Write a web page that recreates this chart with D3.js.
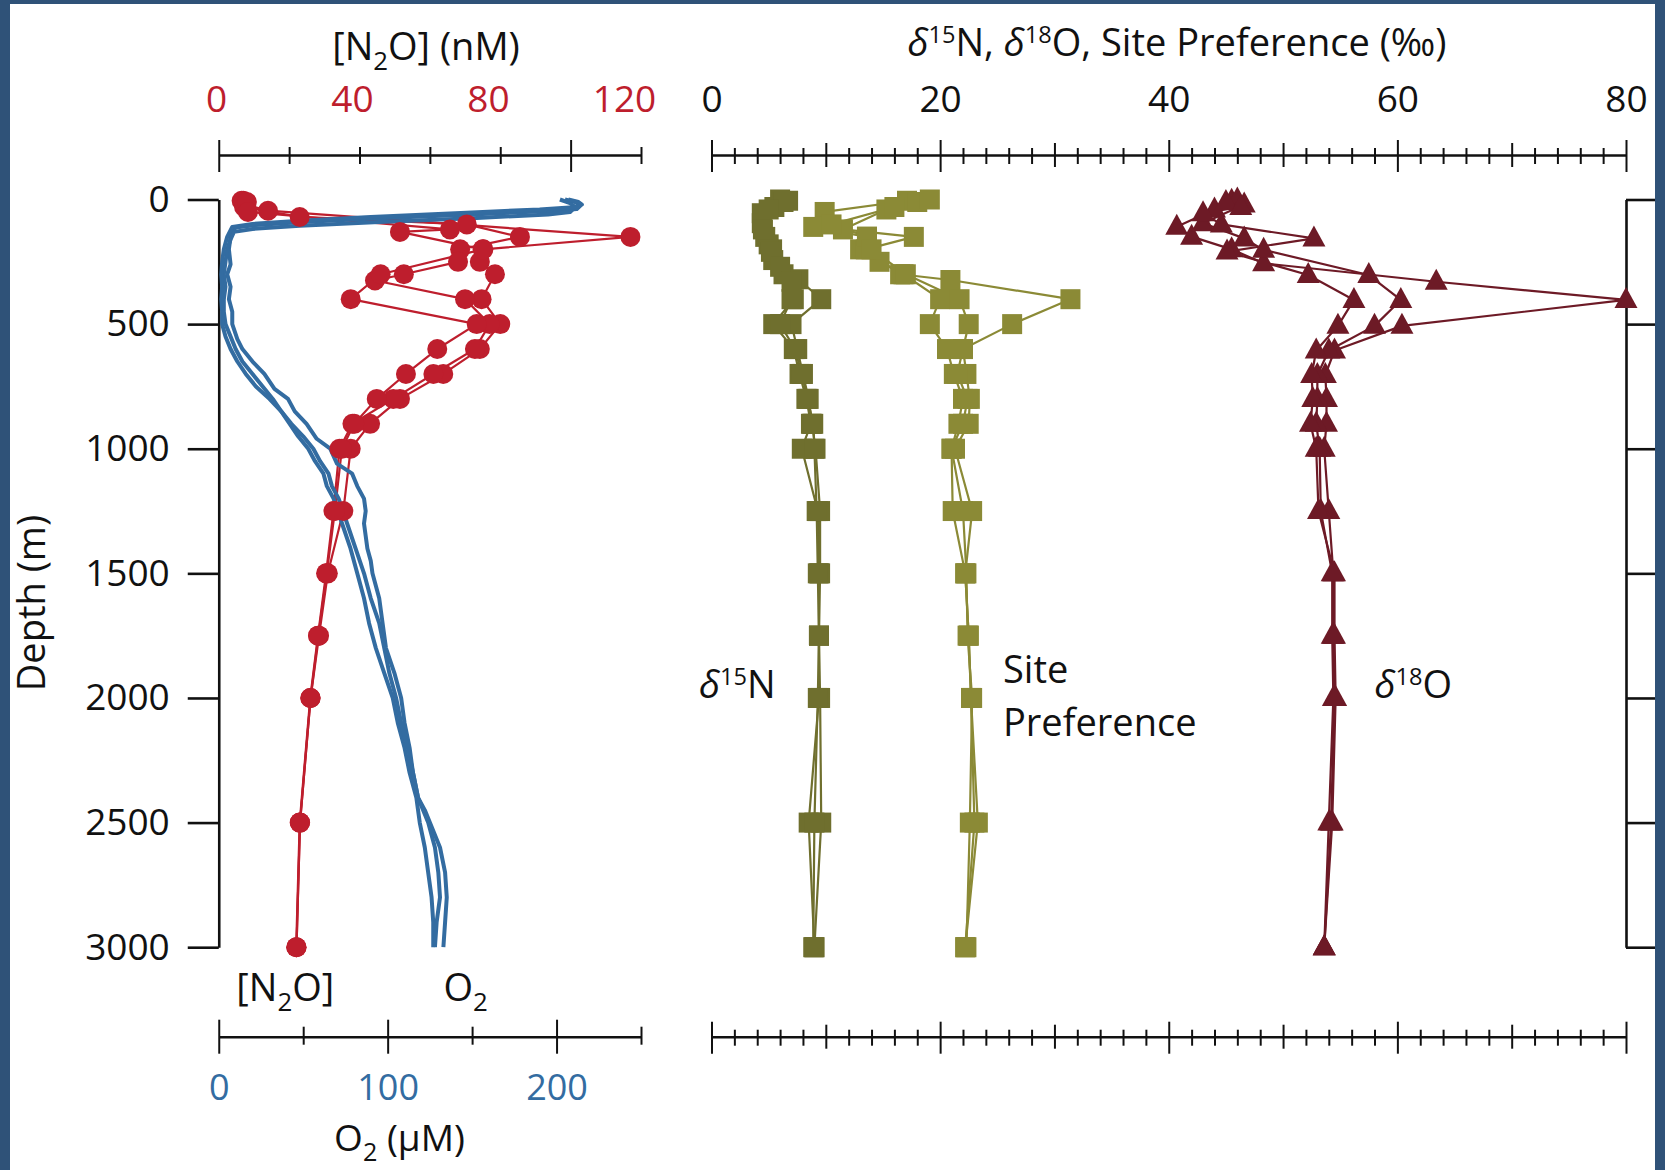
<!DOCTYPE html>
<html>
<head>
<meta charset="utf-8">
<script src="https://cdn.jsdelivr.net/npm/d3@7"></script>
<style>
  html, body { margin: 0; padding: 0; background: #2f5278; }
  svg { display: block; }
</style>
</head>
<body>
<svg id="chart" width="1665" height="1170"></svg>
<script>
// depth ticks and axis tick values
const depthTicks = [0, 500, 1000, 1500, 2000, 2500, 3000];
const n2oTicks = [0, 20, 40, 60, 80, 100, 120];
const n2oLabels = [0, 40, 80, 120];
const o2Ticks = [0, 50, 100, 150, 200, 250];
const o2Labels = [0, 100, 200];
const isoTicks = d3.range(0, 81, 2);
const isoLabels = [0, 20, 40, 60, 80];

// [N2O] (nM) by station, [depth, value]
const n2oSt1 = [[5,7],[20,7.5],[45,14],[150,117],[200,75.2],[250,74.2],[300,78.5],[400,74.7],[500,80],[600,74.2],[700,63.8],[800,51.5],[900,43],[1000,37.5],[1250,35.4],[1500,31],[1750,28.5],[2000,26.1],[2500,23.1],[3000,22.1]];
const n2oSt2 = [[5,6.5],[30,7.2],[70,23],[100,70.5],[150,85.6],[200,68.6],[250,68],[300,52.6],[325,44.4],[400,70],[500,77],[600,72.8],[700,61],[800,49.6],[900,38],[1000,34.3],[1250,32.6],[1500,30.5],[1750,28.2],[2000,26],[2500,23],[3000,22]];
const n2oSt3 = [[10,8],[50,8.3],[120,65.7],[130,51.5],[200,75],[300,46],[400,37.5],[500,73.3],[600,62.1],[700,53.2],[800,44.9],[900,38.5],[1000,35],[1250,33],[1500,30.7],[1750,28.3],[2000,26.1],[2500,23.1],[3000,22.1]];

// O2 (uM) CTD profiles, [depth, value]
const o2Cast1 = [[0,205],[10,211],[25,214],[38,212],[45,200],[60,150],[75,95],[90,50],[102,22],[112,10],[150,7],[200,6],[260,7],[300,5],[350,7],[400,6],[450,8],[500,8],[560,11],[600,14],[650,20],[700,27],[760,33],[800,41],[850,45],[900,52],[960,58],[1000,66],[1060,70],[1100,79],[1150,82],[1200,86],[1250,87],[1300,86],[1350,87],[1400,88],[1450,90],[1500,91],[1600,95],[1700,97],[1800,99],[1900,104],[2000,108],[2100,110],[2200,113],[2300,115],[2400,118],[2450,122],[2500,125],[2600,131],[2700,134],[2800,135],[2900,134],[3000,133]];
const o2Cast2 = [[0,202],[15,208],[30,211],[50,208],[60,195],[75,150],[90,95],[105,48],[118,20],[130,9],[160,7],[200,5],[250,4],[300,3],[350,4],[400,3],[450,3],[500,4],[550,7],[600,10],[650,14],[700,20],[750,26],[800,32],[850,37],[900,42],[950,47],[1000,53],[1050,57],[1100,62],[1150,64],[1200,68],[1300,73],[1400,78],[1500,82],[1600,86],[1700,89],[1800,93],[1900,98],[2000,103],[2100,106],[2200,110],[2300,113],[2400,117],[2500,119],[2600,122],[2700,124],[2800,126],[2900,127],[3000,127]];
const o2Cast3 = [[0,207],[10,213],[20,215],[30,212],[40,190],[55,140],[70,90],[85,48],[98,20],[110,8],[150,5],[200,3],[250,2],[300,1.5],[350,2],[400,1.5],[450,2],[500,2],[550,4],[600,7],[650,11],[700,16],[750,22],[800,30],[850,37],[900,43],[950,50],[1000,56],[1050,60],[1100,65],[1150,67],[1200,71],[1300,76],[1400,81],[1500,86],[1600,90],[1700,95],[1800,98],[1900,101],[2000,105],[2100,108],[2200,112],[2300,115],[2400,118],[2500,124],[2600,128],[2700,130],[2800,131],[2900,129],[3000,128]];

// d15N (permil)
const d15nSt1 = [[5,6.7],[55,4.4],[150,4.7],[200,5.3],[300,6.3],[400,7.2],[500,5.4],[600,7.2],[700,7.7],[800,8.3],[900,8.7],[1000,7.9],[1250,9.3],[1500,9.4],[1750,9.4],[2000,9.4],[2500,8.5],[3000,9.0]];
const d15nSt2 = [[0,6.0],[30,5.5],[95,4.4],[180,5.0],[243,5.4],[320,7.6],[400,9.6],[500,7.0],[600,7.5],[700,8.0],[800,8.5],[900,8.8],[1000,9.1],[1250,9.5],[1500,9.5],[1750,9.4],[2000,9.5],[2500,9.6],[3000,9.0]];
const d15nSt3 = [[10,6.3],[40,5.0],[120,4.5],[210,5.2],[270,6.0],[330,7.0],[400,7.0],[500,6.0],[600,7.3],[700,7.9],[800,8.4],[900,8.9],[1000,9.0],[1250,9.2],[1500,9.3],[1750,9.4],[2000,9.3],[2500,9.0],[3000,8.9]];

// Site preference (permil)
const spSt1 = [[5,17.1],[50,9.9],[110,8.9],[150,13.6],[200,13.0],[250,14.7],[300,16.8],[400,20.0],[500,19.1],[600,20.6],[700,21.2],[800,22.0],[900,21.6],[1000,21.0],[1250,21.1],[1500,22.2],[1750,22.5],[2000,22.7],[2500,23.0],[3000,22.2]];
const spSt2 = [[10,18.0],[40,15.3],[120,11.5],[150,17.7],[200,13.5],[300,16.5],[323,20.9],[400,31.4],[500,26.3],[600,22.0],[700,22.3],[800,22.6],[900,22.5],[1000,21.3],[1250,22.8],[1500,22.2],[1750,22.5],[2000,22.7],[2500,23.3],[3000,22.2]];
const spSt3 = [[0,19.1],[30,16.0],[100,10.5],[149,13.6],[200,14.0],[300,17.0],[400,21.7],[500,22.5],[600,22.0],[700,21.5],[800,22.4],[900,22.0],[1000,21.0],[1250,22.0],[1500,22.3],[1750,22.4],[2000,22.8],[2500,22.6],[3000,22.3]];

// d18O (permil)
const d18oSt1 = [[5,45.5],[40,44.0],[109,40.7],[149,42.0],[200,45.5],[256,48.3],[330,63.4],[403,80.0],[507,60.4],[606,54.5],[704,53.7],[800,53.8],[900,53.8],[1000,53.6],[1250,54.0],[1500,54.4],[1750,54.4],[2000,54.5],[2500,54.2],[3000,53.6]];
const d18oSt2 = [[0,46.0],[20,46.6],[95,43.0],[156,46.6],[202,48.3],[303,57.5],[403,60.3],[507,58.0],[606,54.0],[704,53.0],[800,53.0],[900,52.9],[1000,53.2],[1250,53.3],[1500,54.3],[1750,54.3],[2000,54.4],[2500,54.0],[3000,53.6]];
const d18oSt3 = [[10,45.0],[30,46.3],[55,43.0],[100,44.6],[156,52.7],[209,45.1],[303,52.2],[403,56.2],[507,54.8],[606,52.9],[704,52.5],[800,52.6],[900,52.4],[1000,52.9],[1250,53.1],[1500,54.5],[1750,54.5],[2000,54.6],[2500,54.3],[3000,53.6]];

const FONT = '"Open Sans", "Noto Sans", sans-serif';
const red = "#be1e2d", blue = "#336ca1", olive1 = "#6f6f2e", olive2 = "#8b8a36", maroon = "#6d1a26";

const svg = d3.select("#chart");

// white panel inside the blue frame
svg.append("rect").attr("x", 10).attr("y", 4).attr("width", 1645).attr("height", 1166).attr("fill", "#fff");

const y = d3.scaleLinear().domain([0, 3000]).range([199.5, 947.2]);
const xN2O = d3.scaleLinear().domain([0, 120]).range([218.75, 641]);
// the printed N2O numbers sit a bit left of their ticks in the original
const xN2OLabel = d3.scaleLinear().domain([0, 120]).range([216, 624]);
const xO2 = d3.scaleLinear().domain([0, 250]).range([218.75, 641]);
const xIso = d3.scaleLinear().domain([0, 80]).range([711.5, 1626]);

// axis line with ticks crossing it
function tickBar(yPos, scale, values, lenFn) {
    const g = svg.append("g")
        .attr("transform", `translate(0,${yPos})`)
        .call(d3.axisBottom(scale).tickValues(values).tickSize(0).tickFormat("").tickSizeOuter(0));
    g.select(".domain").attr("stroke", "#111").attr("stroke-width", 2.6);
    g.selectAll(".tick line")
        .attr("stroke", "#111")
        .attr("stroke-width", 2)
        .attr("y1", d => lenFn(d)[0])
        .attr("y2", d => lenFn(d)[1]);
}

function labelAxis(axis, yPos, color, size) {
    const g = svg.append("g")
        .attr("transform", `translate(0,${yPos})`)
        .call(axis);
    g.select(".domain").remove();
    g.attr("font-size", size || 37).attr("font-family", FONT).style("color", color);
}

const isoLen = d => d % 20 === 0 ? [-15, 17] : (d % 10 === 0 ? [-12, 12] : [-7, 9]);

tickBar(155, xN2O, n2oTicks, d => (d === 0 || d === 100) ? [-15, 17] : [-8, 9]);
tickBar(155, xIso, isoTicks, isoLen);
tickBar(1036.7, xO2, o2Ticks, d => d % 100 === 0 ? [-17, 17] : [-10, 8]);
tickBar(1036.7, xIso, isoTicks, isoLen);

labelAxis(d3.axisTop(xN2OLabel).tickValues(n2oLabels).tickSize(0).tickPadding(43), 155, red);
labelAxis(d3.axisTop(xIso).tickValues(isoLabels).tickSize(0).tickPadding(43), 155, "#111");
labelAxis(d3.axisBottom(xO2).tickValues(o2Labels).tickSize(0).tickPadding(38), 1036.7, blue, 36);

// depth axes
const yAxisL = svg.append("g")
    .attr("transform", "translate(218.75,0)")
    .call(d3.axisLeft(y).tickValues(depthTicks).tickFormat(d3.format("d")).tickSize(31).tickPadding(18).tickSizeOuter(0));
yAxisL.attr("font-size", 37).attr("font-family", FONT).style("color", "#111");
yAxisL.select(".domain").attr("stroke-width", 2.6);
yAxisL.selectAll(".tick line").attr("stroke-width", 2.6);

const yAxisR = svg.append("g")
    .attr("transform", "translate(1626,0)")
    .call(d3.axisRight(y).tickValues(depthTicks).tickSize(29).tickFormat("").tickSizeOuter(0));
yAxisR.style("color", "#111");
yAxisR.select(".domain").attr("stroke-width", 2.6);
yAxisR.selectAll(".tick line").attr("stroke-width", 2.6);

// text with sub/superscripts
function richText(x, yb, parts, opts = {}) {
    const t = svg.append("text")
        .attr("x", x).attr("y", yb)
        .attr("font-family", FONT)
        .attr("font-size", opts.size || 38)
        .attr("fill", "#111")
        .attr("text-anchor", opts.anchor || "start");
    if (opts.rotate) t.attr("transform", `rotate(-90,${x},${yb})`);
    let shift = 0;
    parts.forEach(p => {
        const s = t.append("tspan").text(p.t);
        let target = 0;
        if (p.sub) { target = 10; s.attr("font-size", "68%"); }
        if (p.sup) { target = -13; s.attr("font-size", "62%"); }
        if (p.it) s.attr("font-style", "italic");
        if (target !== shift) { s.attr("dy", target - shift); shift = target; }
    });
    return t;
}

richText(426, 60, [{t: "[N"}, {t: "2", sub: true}, {t: "O] (nM)"}], {anchor: "middle"});
richText(1177, 56, [{t: "δ", it: true}, {t: "15", sup: true}, {t: "N, "}, {t: "δ", it: true}, {t: "18", sup: true}, {t: "O, Site Preference (‰)"}], {anchor: "middle"});
richText(399.5, 1151, [{t: "O"}, {t: "2", sub: true}, {t: " (µM)"}], {anchor: "middle", size: 37});
richText(45, 603, [{t: "Depth (m)"}], {anchor: "middle", rotate: true});

// in-plot labels placed through the scales
richText(xN2O(5), y(3217), [{t: "[N"}, {t: "2", sub: true}, {t: "O]"}]);
richText(xO2(133), y(3217), [{t: "O"}, {t: "2", sub: true}]);
richText(xIso(-1.1), y(2000), [{t: "δ", it: true}, {t: "15", sup: true}, {t: "N"}]);
richText(xIso(25.5), y(1939), [{t: "Site"}]);
richText(xIso(25.5), y(2151), [{t: "Preference"}]);
richText(xIso(58.0), y(2000), [{t: "δ", it: true}, {t: "18", sup: true}, {t: "O"}]);

// profiles
function profileLine(data, xs, color, width) {
    svg.append("path")
        .datum(data)
        .attr("fill", "none")
        .attr("stroke", color)
        .attr("stroke-width", width)
        .attr("stroke-linejoin", "round")
        .attr("d", d3.line().x(d => xs(d[1])).y(d => y(d[0])));
}

const n2oStations = [n2oSt1, n2oSt2, n2oSt3];
const o2Casts = [o2Cast1, o2Cast2, o2Cast3];

n2oStations.forEach(s => profileLine(s, xN2O, red, 2.2));
o2Casts.forEach(s => profileLine(s, xO2, blue, 4));
n2oStations.forEach(s => {
    svg.append("g").selectAll("circle")
        .data(s)
        .enter().append("circle")
        .attr("cx", d => xN2O(d[1]))
        .attr("cy", d => y(d[0]))
        .attr("r", 10)
        .attr("fill", red);
});

const square = "M-10,-10H10V10H-10Z";
const triangle = "M0,-13L11.5,8L-11.5,8Z";

[[[d15nSt1, d15nSt2, d15nSt3], olive1, square],
 [[spSt1, spSt2, spSt3], olive2, square],
 [[d18oSt1, d18oSt2, d18oSt3], maroon, triangle]].forEach(([stations, color, shape]) => {
    stations.forEach(s => profileLine(s, xIso, color, 2.2));
    stations.forEach(s => {
        svg.append("g").selectAll("path")
            .data(s)
            .enter().append("path")
            .attr("d", shape)
            .attr("transform", d => `translate(${xIso(d[1])},${y(d[0])})`)
            .attr("fill", color);
    });
});

// blue frame drawn over everything
svg.append("rect").attr("x", 0).attr("y", 0).attr("width", 10).attr("height", 1170).attr("fill", "#2f5278");
svg.append("rect").attr("x", 0).attr("y", 0).attr("width", 1665).attr("height", 4).attr("fill", "#2f5278");
svg.append("rect").attr("x", 1655).attr("y", 0).attr("width", 10).attr("height", 1170).attr("fill", "#2f5278");
</script>
</body>
</html>
